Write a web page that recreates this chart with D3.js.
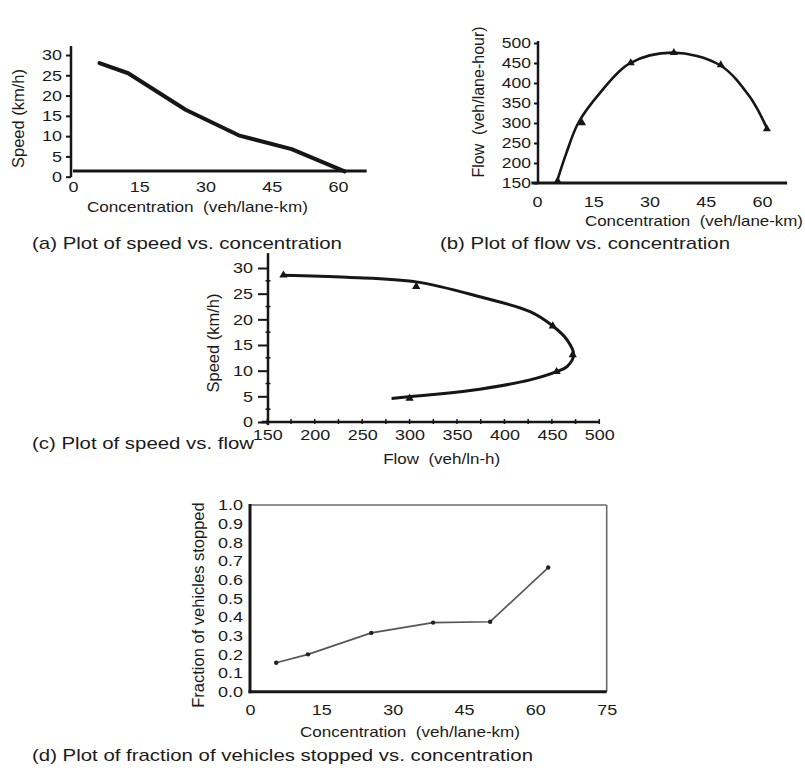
<!DOCTYPE html>
<html>
<head>
<meta charset="utf-8">
<script src="https://cdn.jsdelivr.net/npm/d3@7"></script>
<style>
  body { margin: 0; background: #fff; }
  text { font-family: "Liberation Sans", Arial, Helvetica, sans-serif; fill: #1a1a1a; white-space: pre; }
</style>
</head>
<body>
<svg id="fig" width="805" height="770"></svg>
<script>
// ---------- (a) speed vs. concentration ----------
const concA  = [6, 12.5, 25.5, 37.5, 49.5, 61.5];
const speedA = [28, 25.5, 16.5, 10.2, 6.8, 1.3];
const ticksAx = [0, 15, 30, 45, 60];
const ticksAy = [0, 5, 10, 15, 20, 25, 30];

// ---------- (b) flow vs. concentration ----------
const concB = [5.5, 12, 25, 36.5, 49, 61.3];
const flowB = [155, 300, 450, 476, 445, 285];
// fitted parabola through the observations
const curveConcB = [5.2, 7.8, 11, 16.7, 24.7, 36.2, 48.7, 56.7, 61.5];
const curveFlowB = [150, 224, 300, 374, 449, 476, 445, 366, 283];
const ticksBx = [0, 15, 30, 45, 60];
const ticksBy = [150, 200, 250, 300, 350, 400, 450, 500];

// ---------- (c) speed vs. flow ----------
const flowC  = [167, 307, 451, 472, 455, 300];
const speedC = [28.6, 26.4, 18.7, 13.1, 9.8, 4.6];
// fitted speed-flow curve
const curveFlowC  = [167, 234, 307, 374, 427, 451, 466, 473, 466, 455, 427, 374, 322, 281];
const curveSpeedC = [28.6, 28.2, 27.3, 24.4, 21.5, 18.7, 16.0, 13.1, 10.8, 9.8, 8.2, 6.4, 5.3, 4.6];
const ticksCx = [150, 200, 250, 300, 350, 400, 450, 500];
const ticksCy = [0, 5, 10, 15, 20, 25, 30];

// ---------- (d) fraction of vehicles stopped vs. concentration ----------
const concD = [5.5, 12.2, 25.5, 38.5, 50.5, 62.7];
const fracD = [0.155, 0.2, 0.315, 0.37, 0.375, 0.665];
const ticksDx = [0, 15, 30, 45, 60, 75];
const ticksDy = [0, 0.1, 0.2, 0.3, 0.4, 0.5, 0.6, 0.7, 0.8, 0.9, 1.0];

const captions = [
  "(a) Plot of speed vs. concentration",
  "(b) Plot of flow vs. concentration",
  "(c) Plot of speed vs. flow",
  "(d) Plot of fraction of vehicles stopped vs. concentration"
];
const concTitle = "Concentration  (veh/lane-km)";

const svg = d3.select("#fig");
const INK = "#161616";

// widen glyphs horizontally by factor k
function stretch(sel, k) {
  sel.each(function () {
    const w = this.getComputedTextLength();
    this.setAttribute("textLength", (w * k).toFixed(1));
    this.setAttribute("lengthAdjust", "spacingAndGlyphs");
  });
}

function hText(x, y, str, size, len, anchor) {
  const t = svg.append("text")
    .attr("x", x).attr("y", y)
    .attr("font-size", size)
    .attr("text-anchor", anchor || "middle")
    .text(str);
  if (len) t.attr("textLength", len).attr("lengthAdjust", "spacingAndGlyphs");
  return t;
}

function vText(bx, cy, str, size) {
  return svg.append("text")
    .attr("transform", `translate(${bx},${cy}) rotate(-90)`)
    .attr("font-size", size)
    .attr("text-anchor", "middle")
    .text(str);
}

function vline(x, y1, y2, w, c) {
  svg.append("line").attr("x1", x).attr("x2", x).attr("y1", y1).attr("y2", y2)
    .attr("stroke", c || INK).attr("stroke-width", w);
}
function hline(y, x1, x2, w, c) {
  svg.append("line").attr("x1", x1).attr("x2", x2).attr("y1", y).attr("y2", y)
    .attr("stroke", c || INK).attr("stroke-width", w);
}

function tidyAxis(g, size, k) {
  g.attr("font-family", null).attr("font-size", size);
  g.select(".domain").remove();
  g.selectAll(".tick line").attr("stroke", INK).attr("stroke-width", 2);
  stretch(g.selectAll(".tick text"), k);
}

function markers(data, x, y, size) {
  svg.append("g").selectAll("path").data(data).join("path")
    .attr("transform", d => `translate(${x(d[0])},${y(d[1])})`)
    .attr("d", d3.symbol(d3.symbolTriangle, size))
    .attr("fill", INK);
}

// ================= panel (a) =================
{
  const x = d3.scaleLinear([0, 60], [73, 338]);
  const y = d3.scaleLinear([0, 30], [176.7, 55]);
  const axisY = 1.4; // level of the drawn abscissa

  vline(71, y(-0.1), y(32.2), 2.5);
  const gy = svg.append("g").attr("transform", "translate(71,0)")
    .call(d3.axisLeft(y).tickValues(ticksAy).tickSize(5).tickPadding(4));
  tidyAxis(gy, 15, 1.2);

  hline(y(axisY), x(0), x(66.5), 3);
  const gx = svg.append("g").attr("transform", `translate(0,${y(axisY)})`)
    .call(d3.axisBottom(x).tickValues(ticksAx).tickSize(0).tickPadding(10));
  tidyAxis(gx, 15, 1.2);

  svg.append("path")
    .attr("d", d3.line().x(d => x(d[0])).y(d => y(d[1]))(d3.zip(concA, speedA)))
    .attr("fill", "none").attr("stroke", INK).attr("stroke-width", 4)
    .attr("stroke-linejoin", "round").attr("stroke-linecap", "round");

  hText(197.4, 212, concTitle, 15, 221);
  vText(24, 118.5, "Speed (km/h)", 16.5);
  hText(32, 249, captions[0], 17, 310, "start");
}

// ================= panel (b) =================
{
  const x = d3.scaleLinear([0, 60], [537, 762]);
  const y = d3.scaleLinear([150, 500], [183, 43]);

  vline(538, y(150), y(505), 2.5);
  const gy = svg.append("g").attr("transform", "translate(538,0)")
    .call(d3.axisLeft(y).tickValues(ticksBy).tickSize(4).tickPadding(3));
  tidyAxis(gy, 14, 1.25);

  hline(y(150), x(-1.5), x(66.7), 3);
  const gx = svg.append("g").attr("transform", `translate(0,${y(150)})`)
    .call(d3.axisBottom(x).tickValues(ticksBx).tickSize(0).tickPadding(13));
  tidyAxis(gx, 15, 1.2);

  svg.append("path")
    .attr("d", d3.line().x(d => x(d[0])).y(d => y(d[1]))
      .curve(d3.curveCatmullRom.alpha(0.5))(d3.zip(curveConcB, curveFlowB)))
    .attr("fill", "none").attr("stroke", INK).attr("stroke-width", 2.6);
  markers(d3.zip(concB, flowB), x, y, 28);

  hText(694, 226, concTitle, 15, 218);
  vText(483.5, 102, "Flow  (veh/lane-hour)", 16);
  hText(440, 249, captions[1], 17, 290, "start");
}

// ================= panel (c) =================
{
  const x = d3.scaleLinear([150, 500], [267.3, 599.3]);
  const y = d3.scaleLinear([0, 30], [422, 268]);

  vline(268, y(-0.6), y(32.9), 2.5);
  // minor crossbars on the ordinate
  svg.append("g").selectAll("line").data(d3.range(2.5, 32.5, 5)).join("line")
    .attr("x1", 265.5).attr("x2", 270.5).attr("y1", d => y(d)).attr("y2", d => y(d))
    .attr("stroke", INK).attr("stroke-width", 1.5);
  const gy = svg.append("g").attr("transform", "translate(268,0)")
    .call(d3.axisLeft(y).tickValues(ticksCy).tickSize(10).tickPadding(5));
  tidyAxis(gy, 15, 1.2);

  hline(y(0), x(144), x(500.7), 2.5);
  svg.append("g").selectAll("line").data(d3.range(150, 525, 25)).join("line")
    .attr("x1", d => x(d)).attr("x2", d => x(d)).attr("y1", y(0) - 3).attr("y2", y(0) + 2)
    .attr("stroke", INK).attr("stroke-width", 1.5);
  const gx = svg.append("g").attr("transform", `translate(0,${y(0)})`)
    .call(d3.axisBottom(x).tickValues(ticksCx).tickSize(0).tickPadding(7));
  tidyAxis(gx, 15, 1.2);

  svg.append("path")
    .attr("d", d3.line().x(d => x(d[0])).y(d => y(d[1]))
      .curve(d3.curveCatmullRom.alpha(0.5))(d3.zip(curveFlowC, curveSpeedC)))
    .attr("fill", "none").attr("stroke", INK).attr("stroke-width", 3);
  markers(d3.zip(flowC, speedC), x, y, 30);

  hText(441.7, 464, "Flow  (veh/ln-h)", 15, 117);
  vText(218.5, 343, "Speed (km/h)", 16.5);
  hText(32, 449, captions[2], 17, 222, "start");
}

// ================= panel (d) =================
{
  const x = d3.scaleLinear([0, 75], [250, 606.7]);
  const y = d3.scaleLinear([0, 1], [691.7, 505]);

  hline(y(1), x(0), x(75), 1.6, "#6a6a6a");
  vline(x(75), y(1), y(0), 1.6, "#6a6a6a");
  vline(x(0), y(1) - 1, y(0) + 1.5, 3);
  hline(y(0), x(0) - 1.5, x(75), 3);

  const gy = svg.append("g").attr("transform", `translate(${x(0)},0)`)
    .call(d3.axisLeft(y).tickValues(ticksDy).tickFormat(d3.format(".1f")).tickSize(0).tickPadding(7));
  tidyAxis(gy, 15, 1.2);
  const gx = svg.append("g").attr("transform", `translate(0,${y(0)})`)
    .call(d3.axisBottom(x).tickValues(ticksDx).tickSize(0).tickPadding(13));
  tidyAxis(gx, 15, 1.2);

  const pts = d3.zip(concD, fracD);
  svg.append("path")
    .attr("d", d3.line().x(d => x(d[0])).y(d => y(d[1]))(pts))
    .attr("fill", "none").attr("stroke", "#555").attr("stroke-width", 1.6);
  svg.append("g").selectAll("circle").data(pts).join("circle")
    .attr("cx", d => x(d[0])).attr("cy", d => y(d[1])).attr("r", 2.2)
    .attr("fill", "#222");

  hText(410, 737, concTitle, 15, 220);
  vText(204, 605, "Fraction of vehicles stopped", 16.5);
  hText(32, 761, captions[3], 17, 501, "start");
}
</script>
</body>
</html>
